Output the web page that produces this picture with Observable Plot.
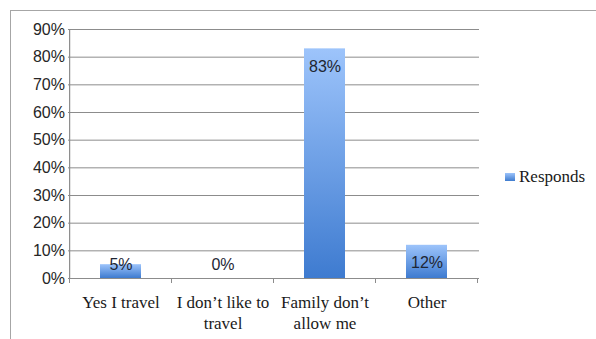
<!DOCTYPE html>
<html>
<head>
<meta charset="utf-8">
<script src="https://cdn.jsdelivr.net/npm/d3@7"></script>
<script src="https://cdn.jsdelivr.net/npm/@observablehq/plot@0.6"></script>
<style>
  html, body { margin: 0; padding: 0; background: #fff; }
  #wrap { position: relative; width: 596px; height: 339px; overflow: hidden; }
  #border { position: absolute; left: 10px; top: 10px; width: 700px; height: 500px;
            border-left: 1.5px solid #a6a6a6; border-top: 1.5px solid #a6a6a6; }
  #legend { position: absolute; left: 505px; top: 167px; font-family: "Liberation Serif", serif;
            font-size: 17px; color: #1a1a1a; display: flex; align-items: center; }
  #legend .sw { width: 10px; height: 8px; margin-right: 4px;
                background: linear-gradient(#9cc3fb, #3f7ccf); }
  #chart { position: absolute; left: 0; top: 0; }
</style>
</head>
<body>
<div id="wrap">
  <div id="border"></div>
  <div id="chart"></div>
  <div id="legend"><span class="sw"></span><span id="legendLabel"></span></div>
</div>
<script>
const categories = ["Yes I travel", "I don\u2019t like to travel", "Family don\u2019t allow me", "Other"];
const categoryLines = [["Yes I travel"], ["I don\u2019t like to", "travel"], ["Family don\u2019t", "allow me"], ["Other"]];
const values = [0.05, 0.00, 0.83, 0.12];
const valueLabels = ["5%", "0%", "83%", "12%"];
const yTicks = [0, 0.1, 0.2, 0.3, 0.4, 0.5, 0.6, 0.7, 0.8, 0.9];
const seriesName = "Responds";

const data = categories.map((c, i) => ({cat: c, lines: categoryLines[i], v: values[i], label: valueLabels[i]}));

document.getElementById("legendLabel").textContent = seriesName;

const gridColor = "#8c8c8c";

// gradient defs
const defs = () => {
  const svg = d3.create("svg:defs");
  const g = svg.append("linearGradient").attr("id", "barGrad")
    .attr("x1", 0).attr("y1", 0).attr("x2", 0).attr("y2", 1);
  g.append("stop").attr("offset", "0%").attr("stop-color", "#9dc4fb");
  g.append("stop").attr("offset", "100%").attr("stop-color", "#3e7bd0");
  return svg.node();
};

// category boundary ticks on x axis
const boundaryTicks = (index, scales, values, dims) => {
  const x = scales.x, y = scales.y;
  const step = x.step();
  const y0 = y(0);
  const g = d3.create("svg:g").attr("stroke", gridColor).attr("stroke-width", 1);
  const xs = categories.map(c => x(c) + x.bandwidth() / 2 - step / 2);
  xs.push(x(categories[categories.length - 1]) + x.bandwidth() / 2 + step / 2);
  xs.forEach(px => g.append("line").attr("x1", px).attr("x2", px).attr("y1", y0).attr("y2", y0 + 5));
  return g.node();
};

const chart = Plot.plot({
  width: 596,
  height: 339,
  marginLeft: 68,
  marginRight: 117,
  marginTop: 29,
  marginBottom: 61,
  style: {background: "transparent", overflow: "visible"},
  x: {domain: categories, paddingInner: 0.6, paddingOuter: 0.3, axis: null},
  y: {domain: [0, 0.9], axis: null},
  marks: [
    defs,
    Plot.ruleY(yTicks, {y: d => d, stroke: gridColor, strokeWidth: 1}),
    Plot.ruleY(yTicks, {y: d => d, x1: 0, x2: 0, dx: -5, stroke: gridColor}),
    Plot.ruleX([0], {x: () => categories[0], y1: 0, y2: 0.9, dx: -51.375, stroke: gridColor, strokeWidth: 1.2}),
    boundaryTicks,
    Plot.barY(data, {x: "cat", y: "v", fill: "url(#barGrad)"}),
    Plot.text(yTicks, {x: () => categories[0], y: d => d, dx: -56, text: d => Math.round(d * 100) + "%",
      textAnchor: "end", fontSize: 16, fill: "#262626", fontFamily: "Liberation Sans, Arial, sans-serif"}),
    Plot.text(data, {x: "cat", y: d => Math.max(d.v, 0.115), dy: 18, text: "label",
      fontSize: 16, fill: "#1e2633", fontFamily: "Liberation Sans, Arial, sans-serif"}),
    Plot.text(data, {x: "cat", y: 0, dy: 14, text: d => d.lines.join("\n"), lineHeight: 1.25,
      lineAnchor: "top", fontSize: 17, fill: "#1a1a1a", fontFamily: "Liberation Serif, serif"})
  ]
});
document.getElementById("chart").appendChild(chart);
</script>
</body>
</html>
